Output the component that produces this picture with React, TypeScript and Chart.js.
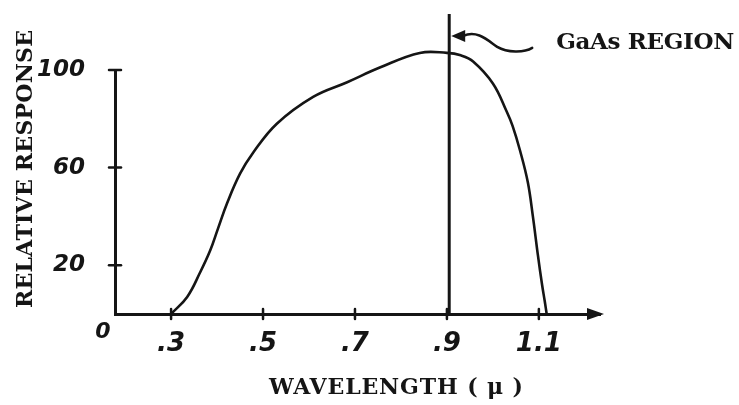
import React, { useEffect, useRef } from "react";
import { Chart, registerables } from "chart.js";

Chart.register(...registerables);

// Spectral response curve (wavelength in microns, relative response)
const WAVELENGTH = [
  0.3, 0.335, 0.363, 0.385, 0.402, 0.422, 0.45, 0.478, 0.53, 0.609, 0.683,
  0.754, 0.841, 0.9, 0.93, 0.957, 1.0, 1.03, 1.043, 1.059, 1.076, 1.087,
  1.098, 1.107, 1.113, 1.117,
];
const RESPONSE = [
  0, 7, 17, 26, 35, 45.5, 57.5, 66, 78, 89, 95, 101, 107, 107, 106, 103.5,
  94.5, 83, 77, 67, 54, 40, 24, 12, 5, 0,
];

const X_TICKS = [0.3, 0.5, 0.7, 0.9, 1.1];
const X_TICK_LABELS = [".3", ".5", ".7", ".9", "1.1"];
const Y_TICKS = [20, 60, 100];
const Y_TICK_LABELS = ["20", "60", "100"];

// GaAs cut-off marker
const GAAS_EDGE = [0.905, 0.905];
const GAAS_MARK = [0, 123];

const X_MIN = 0.178;
const X_MAX = 1.233;

const INK = "#151515";
const TYPE_FONT = "'DejaVu Serif', 'Liberation Serif', serif";
const HAND_FONT = "'DejaVu Sans', sans-serif";

// typewriter-style caption, letter-spaced to span a given width
function typeText(ctx: any, text: string, cx: number, cy: number, width: number, size: number) {
  ctx.font = `bold ${size}px ${TYPE_FONT}`;
  ctx.letterSpacing = "0px";
  const natural = ctx.measureText(text).width;
  const gap = (width - natural) / (text.length - 1);
  ctx.letterSpacing = `${gap}px`;
  ctx.textAlign = "left";
  ctx.textBaseline = "middle";
  ctx.fillText(text, cx - width / 2, cy);
  ctx.letterSpacing = "0px";
}

const decor = {
  id: "decor",
  afterDatasetsDraw(chart: any) {
    const { ctx, chartArea, scales } = chart;
    const x = scales.x;
    const y = scales.y;
    const { left, right, bottom } = chartArea;
    ctx.save();
    ctx.strokeStyle = INK;
    ctx.fillStyle = INK;
    ctx.lineCap = "round";

    // tick marks crossing both axes
    ctx.lineWidth = 2.5;
    for (const v of X_TICKS) {
      const px = x.getPixelForValue(v);
      ctx.beginPath();
      ctx.moveTo(px, bottom - 5);
      ctx.lineTo(px, bottom + 5);
      ctx.stroke();
    }
    for (const v of Y_TICKS) {
      const py = y.getPixelForValue(v);
      ctx.beginPath();
      ctx.moveTo(left - 6, py);
      ctx.lineTo(left + 6, py);
      ctx.stroke();
    }

    // arrowhead at the end of the wavelength axis
    ctx.beginPath();
    ctx.moveTo(right + 4, bottom);
    ctx.lineTo(right - 13, bottom - 6);
    ctx.lineTo(right - 13, bottom + 6);
    ctx.closePath();
    ctx.fill();

    // origin label
    ctx.font = `italic bold 22px ${HAND_FONT}`;
    ctx.textAlign = "center";
    ctx.textBaseline = "middle";
    ctx.fillText("0", left - 12, bottom + 18);

    // axis titles
    typeText(ctx, "WAVELENGTH ( \u03bc )", 396, 388, 254, 22);
    ctx.save();
    ctx.translate(26, 169);
    ctx.rotate(-Math.PI / 2);
    typeText(ctx, "RELATIVE RESPONSE", 0, 0, 278, 22);
    ctx.restore();

    // pointer to the GaAs cut-off line
    const ex = x.getPixelForValue(GAAS_EDGE[0]);
    const ey = y.getPixelForValue(GAAS_MARK[1]) + 22;
    ctx.beginPath();
    ctx.moveTo(ex + 2, ey);
    ctx.lineTo(ex + 16, ey - 6);
    ctx.lineTo(ex + 16, ey + 6);
    ctx.closePath();
    ctx.fill();
    ctx.lineWidth = 2.5;
    ctx.beginPath();
    ctx.moveTo(ex + 14, ey);
    ctx.bezierCurveTo(ex + 28, ey - 6, ex + 38, ey + 4, ex + 48, ey + 11);
    ctx.bezierCurveTo(ex + 58, ey + 17, ex + 75, ey + 17, ex + 83, ey + 12);
    ctx.stroke();

    typeText(ctx, "GaAs REGION", ex + 196, ey + 7, 178, 23);
    ctx.restore();
  },
};

export default function App() {
  const canvasRef = useRef<HTMLCanvasElement | null>(null);

  useEffect(() => {
    document.body.style.margin = "0";
    document.body.style.background = "#ffffff";
    const canvas = canvasRef.current;
    if (!canvas) return;

    const chart = new Chart(canvas, {
      type: "line",
      data: {
        datasets: [
          {
            label: "Relative response",
            data: WAVELENGTH.map((w, i) => ({ x: w, y: RESPONSE[i] })),
            borderColor: INK,
            borderWidth: 2.6,
            pointRadius: 0,
            tension: 0.4,
            fill: false,
            clip: false,
          },
          {
            label: "GaAs region",
            data: GAAS_EDGE.map((w, i) => ({ x: w, y: GAAS_MARK[i] })),
            borderColor: INK,
            borderWidth: 3,
            pointRadius: 0,
            tension: 0,
            fill: false,
            clip: false,
          },
        ],
      },
      options: {
        responsive: false,
        animation: false,
        events: [],
        layout: { padding: { left: 0, right: 139, top: 70, bottom: 0 } },
        plugins: {
          legend: { display: false },
          tooltip: { enabled: false },
          title: { display: false },
        },
        scales: {
          x: {
            type: "linear",
            min: X_MIN,
            max: X_MAX,
            afterBuildTicks: (s: any) => {
              s.ticks = X_TICKS.map((v) => ({ value: v }));
            },
            afterFit: (s: any) => {
              s.height = 91;
            },
            grid: { display: false },
            border: { display: true, color: INK, width: 3 },
            ticks: {
              autoSkip: false,
              maxRotation: 0,
              padding: 7,
              color: INK,
              font: { family: HAND_FONT, size: 26, style: "italic", weight: "bold" },
              callback: (v: any) => {
                const i = X_TICKS.indexOf(Number(v));
                return i >= 0 ? X_TICK_LABELS[i] : "";
              },
            },
          },
          y: {
            type: "linear",
            min: 0,
            max: 100,
            afterBuildTicks: (s: any) => {
              s.ticks = Y_TICKS.map((v) => ({ value: v }));
            },
            afterFit: (s: any) => {
              s.width = 115;
            },
            grid: { display: false },
            border: { display: true, color: INK, width: 3 },
            ticks: {
              autoSkip: false,
              padding: 22,
              color: INK,
              font: { family: HAND_FONT, size: 23, style: "italic", weight: "bold" },
              callback: (v: any) => {
                const i = Y_TICKS.indexOf(Number(v));
                return i >= 0 ? Y_TICK_LABELS[i] : "";
              },
            },
          },
        },
      },
      plugins: [decor],
    } as any);

    return () => chart.destroy();
  }, []);

  return (
    <div style={{ width: 739, height: 405, background: "#ffffff" }}>
      <canvas ref={canvasRef} width={739} height={405} style={{ display: "block" }} />
    </div>
  );
}
